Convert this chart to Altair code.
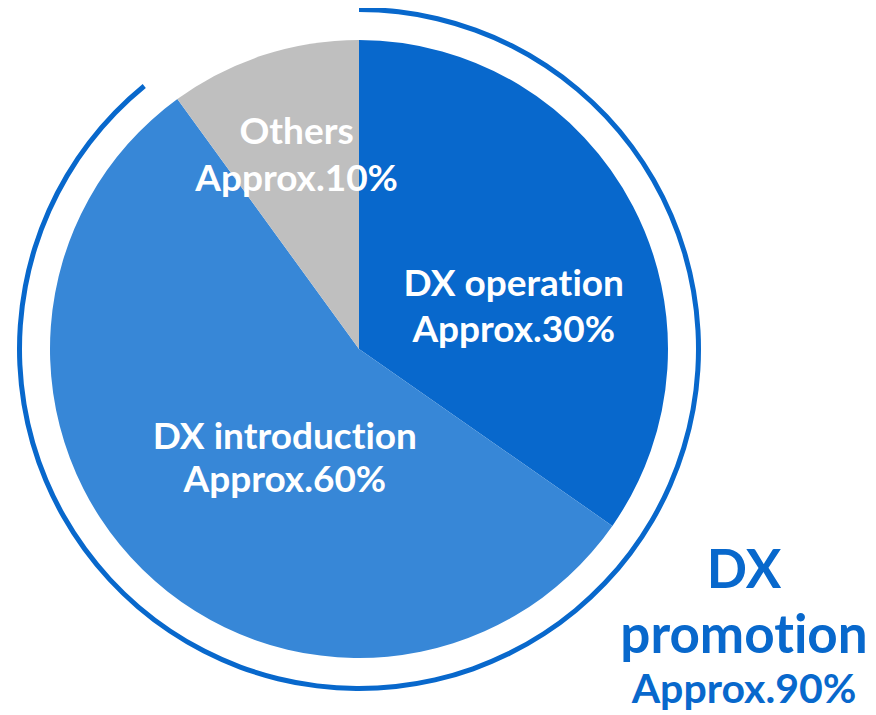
import altair as alt
import pandas as pd

# ---- data ----
categories = ["DX operation", "DX introduction", "Others"]
shares = [34.7, 55.3, 10.0]
# a zero-width non-joiner keeps the font from fusing "t" and "i" into a ligature
line1 = ["DX operat\u200cion", "DX introduct\u200cion", "Others"]
line2 = ["Approx.30%", "Approx.60%", "Approx.10%"]
slice_colors = ["#0868CC", "#3787D7", "#BFBFBF"]

ring_start = [0.0]
ring_end = [89.1]
promo_lines = ["DX", "promot\u200cion", "Approx.90%"]

BLUE = "#0868CC"
FONT = "Lato"

pie_df = pd.DataFrame({
    "category": categories,
    "value": shares,
    "order": list(range(len(categories))),
    "label": [a + "\n" + b for a, b in zip(line1, line2)],
})
pie_df["mid"] = pie_df["value"].cumsum() - pie_df["value"] / 2

ring_df = pd.DataFrame({"start": ring_start, "end": ring_end})

W, H = 702, 682
R = 309

theta_scale = alt.Scale(domain=[0, 100])

pie = alt.Chart(pie_df).mark_arc(outerRadius=R).encode(
    theta=alt.Theta("value:Q", stack=True, scale=theta_scale),
    color=alt.Color("category:N", scale=alt.Scale(domain=categories, range=slice_colors), legend=None),
    order=alt.Order("order:Q"),
)

ring = alt.Chart(ring_df).mark_arc(innerRadius=337, outerRadius=342, color=BLUE).encode(
    theta=alt.Theta("start:Q", scale=theta_scale),
    theta2="end:Q",
)


def slice_label(cat, radius, dx, dy, lh):
    return alt.Chart(pie_df).transform_filter(
        alt.datum.category == cat
    ).mark_text(
        radius=radius, dx=dx, dy=dy, font=FONT, fontWeight="bold", fontSize=37,
        color="white", lineBreak="\n", lineHeight=lh, align="center", baseline="middle",
    ).encode(
        theta=alt.Theta("mid:Q", scale=theta_scale),
        text="label:N",
    )


lab_op = slice_label("DX operation", 161, 12, 10, 46)
lab_in = slice_label("DX introduction", 133, 19, -6, 43)
lab_ot = slice_label("Others", 202, 0, -24, 47)

promo_df = pd.DataFrame({"t": promo_lines, "i": [0, 1, 2]})


def promo(i, size, ybase):
    return alt.Chart(promo_df).transform_filter(alt.datum.i == i).mark_text(
        font=FONT, fontWeight="bold", fontSize=size, color=BLUE,
        align="center", baseline="alphabetic",
    ).encode(text="t:N", x=alt.value(736), y=alt.value(ybase))


p1 = promo(0, 53, 580)
p2 = promo(1, 53, 645)
p3 = promo(2, 41, 695)

chart = alt.layer(ring, pie, lab_op, lab_in, lab_ot, p1, p2, p3).properties(
    width=W, height=H,
    autosize=alt.AutoSizeParams(type="none"),
    padding={"left": 0, "top": 0, "right": 158, "bottom": 25},
).configure_view(stroke=None)

chart.save("out.html", embed_options={"renderer": "svg", "actions": False})
